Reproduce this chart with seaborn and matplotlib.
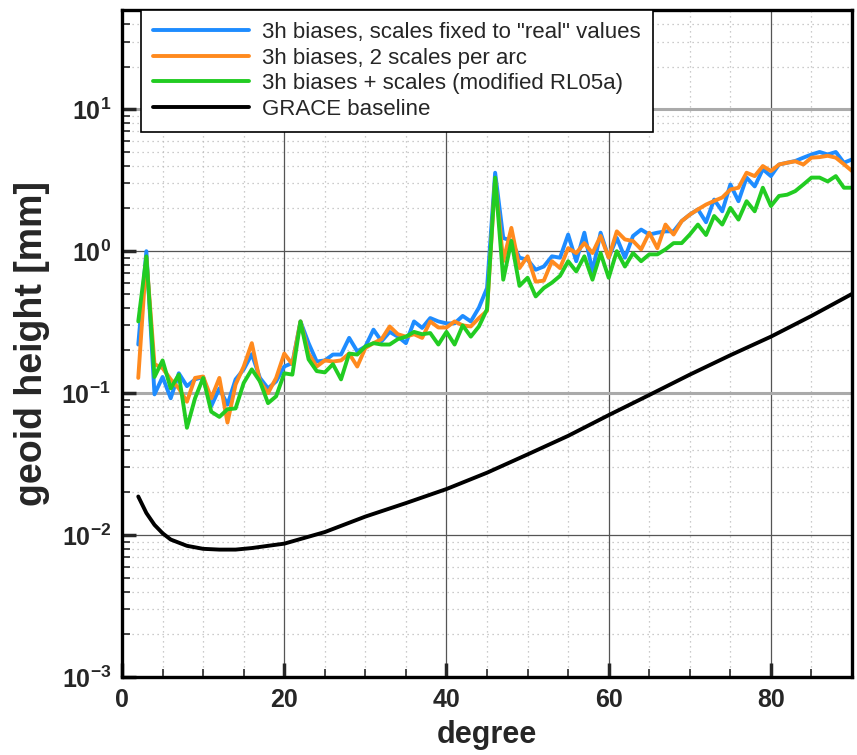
import matplotlib
matplotlib.use("Agg")
import numpy as np
import pandas as pd
import seaborn as sns
import matplotlib.pyplot as plt
from matplotlib.ticker import MultipleLocator, LogLocator, NullFormatter

## geoid height error per degree, log scale, 3 bias/scale variants + GRACE baseline

degrees = list(range(2, 91))

blue_fixed = [0.22, 1.0, 0.098, 0.13, 0.092, 0.138, 0.112, 0.125, 0.13, 0.081,
              0.108, 0.083, 0.125, 0.147, 0.188, 0.128, 0.108, 0.121, 0.154, 0.163,
              0.32, 0.225, 0.167, 0.17, 0.187, 0.187, 0.245, 0.197, 0.213, 0.28,
              0.232, 0.27, 0.25, 0.225, 0.32, 0.288, 0.338, 0.32, 0.31, 0.31,
              0.35, 0.32, 0.40, 0.55, 3.57, 1.24, 1.18, 0.90, 0.87, 0.74,
              0.78, 0.92, 0.9, 1.31, 0.85, 1.35, 0.72, 1.35, 0.9, 1.24,
              0.9, 1.28, 1.42, 1.31, 1.35, 1.38, 1.38, 1.63, 1.81, 1.97,
              1.6, 2.31, 1.91, 2.95, 2.25, 3.3, 2.86, 3.78, 3.38, 4.08,
              4.2, 4.32, 4.56, 4.8, 5.0, 4.8, 5.0, 4.2, 4.43]

orange_2scales = [0.128, 0.9, 0.16, 0.15, 0.125, 0.108, 0.087, 0.128, 0.131, 0.092,
                  0.128, 0.062, 0.115, 0.154, 0.225, 0.121, 0.1, 0.128, 0.19, 0.16,
                  0.32, 0.19, 0.154, 0.17, 0.167, 0.17, 0.19, 0.154, 0.208, 0.225,
                  0.24, 0.295, 0.26, 0.25, 0.26, 0.245, 0.32, 0.29, 0.29, 0.32,
                  0.30, 0.295, 0.338, 0.38, 3.2, 0.85, 1.46, 0.76, 0.92, 0.61,
                  0.62, 0.85, 0.76, 1.05, 0.97, 1.14, 0.97, 1.28, 0.9, 1.38,
                  1.21, 1.18, 1.03, 1.35, 1.05, 1.54, 1.31, 1.63, 1.81, 1.97,
                  2.13, 2.26, 2.39, 2.72, 2.8, 3.57, 3.38, 3.98, 3.67, 4.08,
                  4.2, 4.3, 4.08, 4.56, 4.6, 4.7, 4.56, 4.1, 3.67]

green_rl05a = [0.32, 0.92, 0.13, 0.17, 0.108, 0.135, 0.057, 0.092, 0.128, 0.074,
               0.068, 0.077, 0.078, 0.118, 0.147, 0.121, 0.085, 0.095, 0.138, 0.135,
               0.32, 0.173, 0.143, 0.14, 0.16, 0.125, 0.19, 0.187, 0.213, 0.225,
               0.22, 0.22, 0.24, 0.25, 0.27, 0.26, 0.265, 0.22, 0.27, 0.22,
               0.30, 0.25, 0.295, 0.39, 3.3, 0.63, 1.18, 0.57, 0.65, 0.48,
               0.55, 0.60, 0.67, 0.85, 0.72, 0.92, 0.63, 0.97, 0.65, 1.0,
               0.78, 0.97, 0.85, 0.95, 0.95, 1.03, 1.14, 1.14, 1.31, 1.54,
               1.3, 1.77, 1.54, 2.02, 1.67, 2.25, 1.91, 2.8, 2.08, 2.45,
               2.5, 2.65, 2.95, 3.3, 3.3, 3.1, 3.38, 2.8, 2.8]

baseline_deg = [2, 3, 4, 5, 6, 8, 10, 12, 14, 16, 18, 20, 25, 30, 35, 40, 45,
                50, 55, 60, 65, 70, 75, 80, 85, 90]
baseline_val = [0.0187, 0.0143, 0.0118, 0.0103, 0.0093, 0.0084, 0.0080, 0.0079,
                0.0079, 0.0081, 0.0084, 0.0087, 0.0105, 0.0135, 0.0168, 0.0211,
                0.0275, 0.037, 0.050, 0.070, 0.097, 0.135, 0.185, 0.25, 0.35, 0.50]

labels = ['3h biases, scales fixed to "real" values',
          '3h biases, 2 scales per arc',
          '3h biases + scales (modified RL05a)',
          'GRACE baseline']
colors = ["#1E8CFF", "#FF8A1E", "#22CC22", "black"]

# style
sns.set_style("white")
plt.rcParams["font.family"] = ["Liberation Sans", "DejaVu Sans"]
plt.rcParams["font.weight"] = "bold"
plt.rcParams["axes.unicode_minus"] = False
plt.rcParams["mathtext.fontset"] = "custom"
plt.rcParams["mathtext.rm"] = "Liberation Sans:bold"
plt.rcParams["mathtext.bf"] = "Liberation Sans:bold"
plt.rcParams["mathtext.default"] = "bf"

fig = plt.figure(figsize=(8.57, 7.55), dpi=100)
ax = fig.add_axes([0.1424, 0.1033, 0.8518, 0.8834])

sns.lineplot(x=degrees, y=blue_fixed, ax=ax, color=colors[0], lw=2.8, label=labels[0])
sns.lineplot(x=degrees, y=orange_2scales, ax=ax, color=colors[1], lw=2.8, label=labels[1])
sns.lineplot(x=degrees, y=green_rl05a, ax=ax, color=colors[2], lw=2.8, label=labels[2])
sns.lineplot(x=baseline_deg, y=baseline_val, ax=ax, color=colors[3], lw=2.8, label=labels[3])

ax.set_yscale("log")
ax.set_xlim(0, 90)
ax.set_ylim(1e-3, 50)

ax.set_xticks(range(0, 81, 20))
ax.xaxis.set_minor_locator(MultipleLocator(5))
ax.yaxis.set_major_locator(LogLocator(base=10, numticks=10))
ax.yaxis.set_minor_locator(LogLocator(base=10, subs=np.arange(2, 10), numticks=20))
ax.yaxis.set_minor_formatter(NullFormatter())

ax.set_axisbelow(True)
ax.grid(which="minor", color="#bbbbbb", linestyle=(0, (1, 3)), lw=0.9)
ax.grid(which="major", color="#555555", lw=0.9)
for tick, loc in zip(ax.yaxis.get_major_ticks(), ax.get_yticks()):
    if int(round(np.log10(loc))) % 2 == 1:
        tick.gridline.set_color("#aaaaaa")
        tick.gridline.set_linewidth(2.2)

ax.tick_params(which="major", direction="in", length=10, width=2.5,
               labelsize=18, pad=8, bottom=True, left=True, top=False, right=False)
ax.tick_params(which="minor", direction="in", length=6, width=1.2,
               bottom=True, left=True, top=False, right=False)

for s in ax.spines.values():
    s.set_visible(True)
    s.set_color("black")
    s.set_linewidth(2.4)

ax.set_xlabel("degree", fontsize=22, fontweight="bold", labelpad=6)
ax.set_ylabel("geoid height [mm]", fontsize=27, fontweight="bold", labelpad=8)

leg = ax.legend(loc="upper left", bbox_to_anchor=(0.026, 1.0), borderaxespad=0,
                frameon=True, fancybox=False, edgecolor="black", framealpha=1,
                prop={"size": 16, "weight": "normal"}, handlelength=4.3,
                labelspacing=0.2, borderpad=0.55, handletextpad=0.6)
leg.get_frame().set_linewidth(1.2)

fig.savefig("out.png", dpi=100)
